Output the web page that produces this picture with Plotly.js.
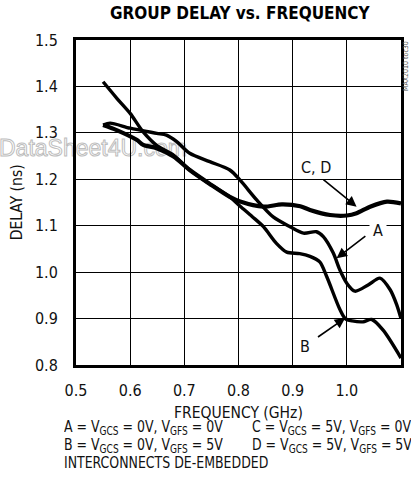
<!DOCTYPE html>
<html>
<head>
<meta charset="utf-8">
<script src="https://cdn.plot.ly/plotly-3.0.1.min.js"></script>
<style>
  html, body { margin: 0; padding: 0; background: #fff; }
  #wrap { position: relative; width: 411px; height: 492px; overflow: hidden; }
  #mark {
    position: absolute; left: -1px; top: 137px; z-index: 0;
    font-family: "Liberation Sans", Arial, sans-serif; font-size: 23px; line-height: 23px;
    color: #fff; -webkit-text-stroke: 1px #bdbdbd; white-space: nowrap;
  }
  #chart { position: absolute; left: 0; top: 0; z-index: 1; }
  .note {
    position: absolute; z-index: 2; white-space: nowrap;
    font-family: "DejaVu Sans Condensed", "Liberation Sans Narrow", sans-serif;
    font-size: 16px; line-height: 18px; color: #111;
    transform: scaleX(0.87); transform-origin: 0 50%;
  }
  .note sub { font-size: 72%; vertical-align: -0.22em; line-height: 0; }
</style>
</head>
<body>
<div id="wrap">
  <div id="mark">DataSheet4U.com</div>
  <div id="chart"></div>
  <div class="note" style="left:64px; top:418px;">A = V<sub>GCS</sub> = 0V, V<sub>GFS</sub> = 0V</div>
  <div class="note" style="left:252px; top:418px;">C = V<sub>GCS</sub> = 5V, V<sub>GFS</sub> = 0V</div>
  <div class="note" style="left:64px; top:436px;">B = V<sub>GCS</sub> = 0V, V<sub>GFS</sub> = 5V</div>
  <div class="note" style="left:252px; top:436px;">D = V<sub>GCS</sub> = 5V, V<sub>GFS</sub> = 5V</div>
  <div class="note" style="left:64px; top:454px;">INTERCONNECTS DE-EMBEDDED</div>
</div>
<script>
// Group delay (ns) against frequency (GHz)
const freqA = [0.550, 0.563, 0.600, 0.649, 0.667, 0.686, 0.710, 0.747, 0.784, 0.803, 0.834, 0.864, 0.895, 0.920, 0.944, 0.957, 0.975, 0.987, 1.000, 1.015, 1.040, 1.061, 1.080, 1.092, 1.100];
const delayA = [1.317, 1.321, 1.310, 1.299, 1.295, 1.281, 1.256, 1.238, 1.220, 1.198, 1.155, 1.119, 1.098, 1.084, 1.087, 1.076, 1.041, 1.005, 0.976, 0.959, 0.973, 0.987, 0.962, 0.930, 0.900];

const freqB = [0.550, 0.575, 0.600, 0.624, 0.650, 0.680, 0.710, 0.747, 0.784, 0.803, 0.825, 0.846, 0.870, 0.889, 0.913, 0.932, 0.950, 0.963, 0.987, 0.997, 1.010, 1.030, 1.046, 1.067, 1.100];
const delayB = [1.410, 1.375, 1.342, 1.302, 1.272, 1.252, 1.220, 1.190, 1.162, 1.142, 1.120, 1.098, 1.062, 1.043, 1.040, 1.034, 1.022, 0.990, 0.920, 0.900, 0.895, 0.893, 0.898, 0.875, 0.815];

// C and D coincide over the whole band
const freqCD = [0.550, 0.575, 0.612, 0.624, 0.649, 0.680, 0.710, 0.747, 0.784, 0.803, 0.846, 0.880, 0.914, 0.932, 0.969, 1.000, 1.018, 1.043, 1.074, 1.100];
const delayCD = [1.317, 1.306, 1.285, 1.274, 1.267, 1.249, 1.220, 1.190, 1.162, 1.152, 1.141, 1.146, 1.142, 1.134, 1.123, 1.122, 1.127, 1.141, 1.152, 1.148];

const tickVals = [0.5, 0.6, 0.7, 0.8, 0.9, 1.0, 1.1];
const tickText = ["0.5", "0.6", "0.7", "0.8", "0.9", "1.0", "1.1"];
const yTickVals = [0.8, 0.9, 1.0, 1.1, 1.2, 1.3, 1.4, 1.5];
const yTickText = ["0.8", "0.9", "1.0", "1.1", "1.2", "1.3", "1.4", "1.5"];

const NARROW = '"DejaVu Sans Condensed", "Liberation Sans Narrow", sans-serif';
const INK = '#111';

const lineStyle = (w) => ({ color: '#000', width: w, shape: 'spline', smoothing: 0.8 });

const traces = [
  { x: freqA, y: delayA, mode: 'lines', line: lineStyle(3.4), name: 'A', hoverinfo: 'skip' },
  { x: freqB, y: delayB, mode: 'lines', line: lineStyle(3.4), name: 'B', hoverinfo: 'skip' },
  { x: freqCD, y: delayCD, mode: 'lines', line: lineStyle(4.2), name: 'C, D', hoverinfo: 'skip' }
];

// pointer arrows: [tip x, tip y, tail x, tail y]
const arrows = [
  [1.018, 1.141, 0.954, 1.202],
  [0.981, 1.030, 1.037, 1.080],
  [0.997, 0.901, 0.944, 0.858]
];

const labelFont = { family: NARROW, size: 16, color: INK };
const noteFont = { family: NARROW, size: 15.5, color: INK };

const annotations = [];
arrows.forEach(([x, y, ax, ay]) => {
  annotations.push({
    x: x, y: y, ax: ax, ay: ay, xref: 'x', yref: 'y', axref: 'x', ayref: 'y',
    text: '', showarrow: true, arrowhead: 2, arrowsize: 1.3, arrowwidth: 1.6,
    arrowcolor: '#000', standoff: 0, startstandoff: 0
  });
});

annotations.push(
  { x: 0.943, y: 1.226, xref: 'x', yref: 'y', text: 'C, D', showarrow: false, font: labelFont },
  { x: 1.057, y: 1.089, xref: 'x', yref: 'y', text: 'A', showarrow: false, font: labelFont,
    bgcolor: '#fff', borderpad: 3 },
  { x: 0.923, y: 0.839, xref: 'x', yref: 'y', text: 'B', showarrow: false, font: labelFont },
  // heading
  { x: 0.505, y: 1, xref: 'paper', yref: 'paper', yanchor: 'middle', yshift: 27, showarrow: false,
    text: '<b>GROUP DELAY vs. FREQUENCY</b>', font: { family: NARROW, size: 17, color: '#000' } },
  // axis titles
  { x: 0.5, y: 0, xref: 'paper', yref: 'paper', yanchor: 'middle', yshift: -48, showarrow: false,
    text: 'FREQUENCY (GHz)', font: noteFont },
  { x: -0.182, y: 0.5, xref: 'paper', yref: 'paper', xanchor: 'center', yanchor: 'middle',
    textangle: -90, showarrow: false, text: 'DELAY (ns)', font: noteFont },
  // figure tag
  { x: 1, y: 1, xref: 'paper', yref: 'paper', xanchor: 'center', yanchor: 'top', xshift: 5, yshift: 1,
    textangle: -90, showarrow: false, text: 'MAX2010 toc30',
    font: { family: NARROW, size: 7, color: '#555' } }
);

const axisCommon = {
  showline: true, mirror: true, linewidth: 3, linecolor: '#000',
  showgrid: true, gridcolor: '#000', gridwidth: 1,
  zeroline: false, ticks: '', tickmode: 'array',
  tickfont: { family: NARROW, size: 16, color: INK },
  fixedrange: true
};

const layout = {
  width: 411, height: 492,
  margin: { l: 76, r: 10, t: 40, b: 127 },
  paper_bgcolor: 'rgba(0,0,0,0)', plot_bgcolor: 'rgba(0,0,0,0)',
  showlegend: false,
  xaxis: Object.assign({}, axisCommon, {
    range: [0.5, 1.1], tickvals: tickVals, ticktext: tickText, ticklabelstandoff: 9
  }),
  yaxis: Object.assign({}, axisCommon, {
    range: [0.8, 1.5], tickvals: yTickVals, ticktext: yTickText, ticklabelstandoff: 12
  }),
  annotations: annotations
};

Plotly.newPlot('chart', traces, layout, { staticPlot: true, displayModeBar: false });
</script>
</body>
</html>
